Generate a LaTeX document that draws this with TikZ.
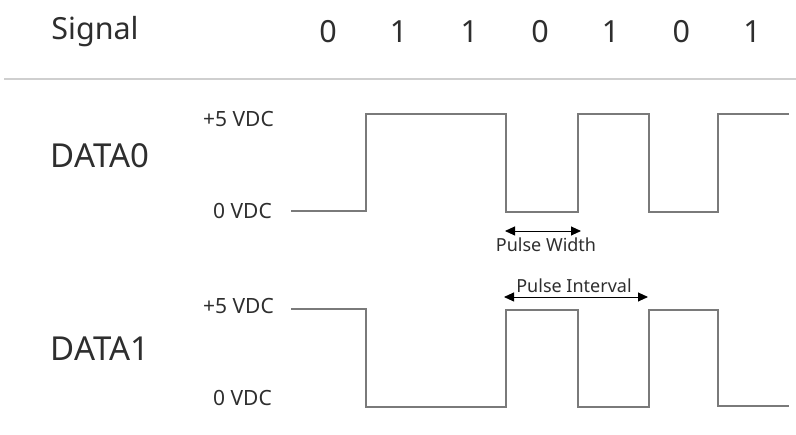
\documentclass[tikz,border=0pt]{standalone}
\usepackage{fontspec}
\setmainfont{Noto Sans}
\usepackage{tikz}
\usepackage{xcolor}
\usetikzlibrary{positioning,arrows.meta}
\definecolor{InkGray}{HTML}{2E2E2E}
\definecolor{WaveGray}{HTML}{7A7A7A}
\definecolor{RuleGray}{HTML}{CFCFCF}

\begin{document}
\begin{tikzpicture}[x=1pt,y=-1pt,
          every node/.style={text=InkGray,inner sep=0pt},
          head/.style={font=\fontsize{30.5}{30}\selectfont},
          chan/.style={font=\fontsize{33}{33}\selectfont},
          lvl/.style={font=\fontsize{21}{21}\selectfont,anchor=east},
          note/.style={font=\fontsize{18}{18}\selectfont},
          wave/.style={draw=WaveGray,line width=1.6pt},
          dim/.style={draw=black,line width=0.9pt,
                      {Triangle[length=10pt,width=9pt]}-{Triangle[length=10pt,width=9pt]}}]
        \useasboundingbox (0,0) rectangle (796,435);
        % header
        \node[head] (sig) at (95,32) {Signal};
        \foreach \b [count=\i] in {0,1,1,0,1,0,1}
            \node[head] (b\i) at ({328+70.67*(\i-1)},32) {\b};
        \draw[RuleGray,line width=1.2pt] (4,79) -- (796,79);
        % channel names
        \node[chan] (d0) at (100,156) {DATA0};
        \node[chan] (d1) at (100,349) {DATA1};
        % levels
        \node[lvl] (hi0) at (274,119) {+5 VDC};
        \node[lvl] (lo0) at (272,211) {0 VDC};
        \node[lvl] (hi1) at (274,306) {+5 VDC};
        \node[lvl] (lo1) at (272,398) {0 VDC};
        % waveforms
        \draw[wave] (291,211) -| (366,114) -| (506,212) -| (578,114)
                    -| (649,212) -| (718,114) -- (789,114);
        \draw[wave] (291,309) -| (366,407) -| (506,310) -| (578,407)
                    -| (649,310) -| (718,406) -- (789,406);
        % pulse width
        \coordinate (pwL) at (505,231);
        \coordinate (pwR) at (581,231);
        \draw[dim] (pwL) -- (pwR);
        \node[note] (pw) at (546,245) {Pulse Width};
        % pulse interval
        \coordinate (piL) at (504,297);
        \coordinate (piR) at (648,297);
        \draw[dim] (piL) -- (piR);
        \node[note] (pi) at (574,286) {Pulse Interval};
      \end{tikzpicture}
\end{document}
